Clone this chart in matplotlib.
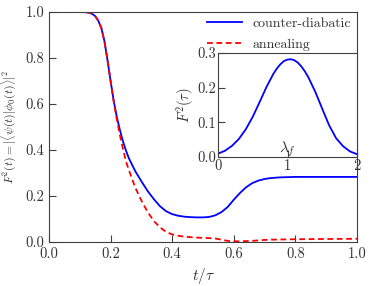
import matplotlib
matplotlib.use("Agg")
import matplotlib.pyplot as plt

plt.rcParams['font.family'] = 'serif'
plt.rcParams['font.serif'] = ['cmr10', 'DejaVu Serif']
plt.rcParams['mathtext.fontset'] = 'cm'
plt.rcParams['axes.formatter.use_mathtext'] = True
plt.rcParams['axes.unicode_minus'] = False

# main panel data (t/tau grid shared by both curves)
t = [0.0, 0.05, 0.10, 0.12, 0.13, 0.14, 0.15, 0.16, 0.17, 0.18, 0.19, 0.20, 0.21, 0.22,
     0.23, 0.24, 0.25, 0.26, 0.28, 0.30, 0.32, 0.34, 0.36, 0.38, 0.40, 0.42, 0.44, 0.46,
     0.48, 0.50, 0.52, 0.54, 0.56, 0.58, 0.60, 0.62, 0.64, 0.66, 0.68, 0.70, 0.72, 0.75,
     0.80, 0.90, 1.0]
F_cd = [1.0, 1.0, 1.0, 0.999, 0.997, 0.992, 0.982, 0.962, 0.93, 0.873, 0.79, 0.70, 0.615,
        0.545, 0.488, 0.438, 0.397, 0.362, 0.308, 0.264, 0.222, 0.187, 0.156, 0.134, 0.121,
        0.114, 0.110, 0.108, 0.107, 0.107, 0.109, 0.116, 0.130, 0.152, 0.184, 0.213, 0.238,
        0.256, 0.267, 0.274, 0.278, 0.281, 0.283, 0.283, 0.283]
F_an = [1.0, 1.0, 1.0, 0.999, 0.997, 0.992, 0.982, 0.962, 0.93, 0.873, 0.79, 0.70, 0.610,
        0.535, 0.466, 0.405, 0.350, 0.310, 0.237, 0.180, 0.131, 0.092, 0.064, 0.044, 0.033,
        0.027, 0.023, 0.021, 0.019, 0.018, 0.017, 0.015, 0.010, 0.005, 0.003, 0.003, 0.004,
        0.005, 0.007, 0.009, 0.010, 0.011, 0.012, 0.013, 0.014]

# inset data
lam = [0.0, 0.1, 0.2, 0.3, 0.4, 0.5, 0.6, 0.7, 0.75, 0.8, 0.85, 0.9, 0.95, 1.0, 1.05,
       1.1, 1.15, 1.2, 1.25, 1.3, 1.4, 1.5, 1.6, 1.7, 1.8, 1.9, 2.0]
F_lam = [0.0096, 0.018, 0.032, 0.052, 0.080, 0.116, 0.159, 0.203, 0.222, 0.241, 0.256,
         0.268, 0.277, 0.281, 0.282, 0.279, 0.272, 0.261, 0.247, 0.230, 0.188, 0.139,
         0.091, 0.054, 0.031, 0.016, 0.008]

edge = '#404040'
tcol = '#333333'

fig = plt.figure(figsize=(3.73, 2.86), dpi=100)
ax = fig.add_axes([49/373, 1-242/286, (357-49)/373, (242-12)/286])
ax.plot(t, F_cd, color='blue', lw=1.3, label='counter-diabatic')
ax.plot(t, F_an, color='red', lw=1.3, ls=(0, (3.2, 2)), label='annealing')
ax.set_xlim(0, 1)
ax.set_ylim(0, 1)
ax.set_xticks([0, 0.2, 0.4, 0.6, 0.8, 1.0])
ax.set_yticks([0, 0.2, 0.4, 0.6, 0.8, 1.0])
ax.set_xticklabels(['0.0', '0.2', '0.4', '0.6', '0.8', '1.0'])
ax.set_yticklabels(['0.0', '0.2', '0.4', '0.6', '0.8', '1.0'])
ax.tick_params(direction='in', length=5, labelsize=10.5, colors=edge, labelcolor=tcol)
for s in ax.spines.values():
    s.set_color(edge)
ax.set_xlabel(r'$t/\tau$', fontsize=11, labelpad=4, color=tcol)
ax.set_ylabel(r'$F^2(t) = |\langle\psi(t)|\phi_0(t)\rangle|^2$', fontsize=8.5,
              labelpad=5, color=tcol)
leg = ax.legend(loc='upper right', frameon=False, fontsize=10, handlelength=2.5,
                handletextpad=0.8, borderaxespad=0.15, labelspacing=0.55, borderpad=0.25)
for txt in leg.get_texts():
    txt.set_color(tcol)

axi = fig.add_axes([218/373, 1-157/286, (357-218)/373, (157-53)/286])
axi.plot(lam, F_lam, color='blue', lw=1.3)
axi.set_xlim(0, 2)
axi.set_ylim(0, 0.3)
axi.set_xticks([0, 1, 2])
axi.set_yticks([0, 0.1, 0.2, 0.3])
axi.set_yticklabels(['0.0', '0.1', '0.2', '0.3'])
axi.tick_params(direction='in', length=5, labelsize=10.5, colors=edge, labelcolor=tcol, pad=1)
for s in axi.spines.values():
    s.set_color(edge)
axi.set_xlabel(r'$\lambda_f$', fontsize=11, color=tcol)
axi.xaxis.set_label_coords(0.5, 0.17)
axi.set_ylabel(r'$F^2(\tau)$', fontsize=10.5, labelpad=1, color=tcol)

fig.savefig('out.png', dpi=100)
